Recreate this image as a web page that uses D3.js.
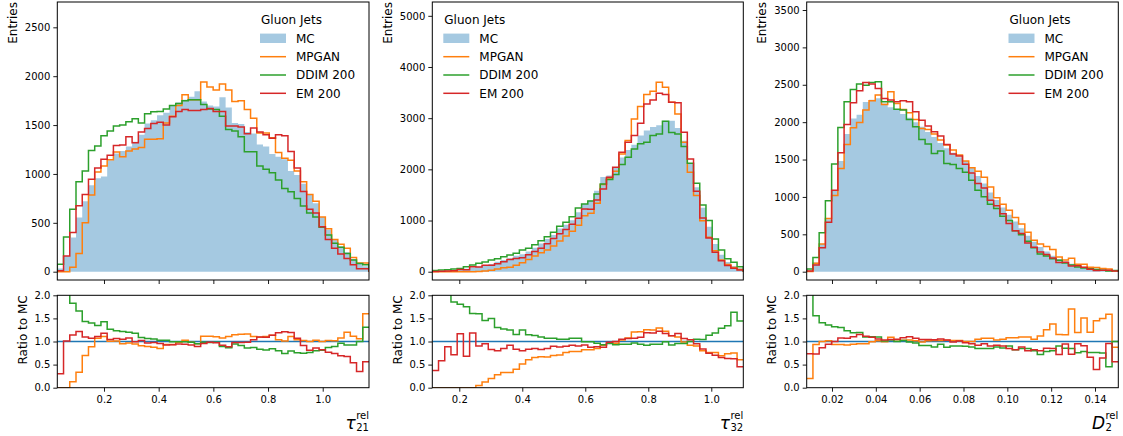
<!DOCTYPE html>
<html>
<head>
<meta charset="utf-8">
<script src="https://d3js.org/d3.v7.min.js"></script>
<style>
    body { margin: 0; background: #ffffff; }
    svg text { font-family: "DejaVu Sans", sans-serif; fill: #000000; }
</style>
</head>
<body>
<svg id="vis" width="1123" height="436"></svg>
<script>
/**
 * Call our functions on window load event
 */
window.onload = function(){
    setup();
};

/**
 * Data (50 bins per variable)
 */
var binCount = 50;
var seriesNames = ["MC", "MPGAN", "DDIM 200", "EM 200"];
var legendTitle = "Gluon Jets";

// tau21
var tau21Range = [0.0292, 1.1693];
var tau21MC    = [33,158,350,555,720,885,955,975,1140,1210, 1235,1280,1330,1400,1515,1550,1600,1625,1705,1730, 1760,1790,1845,1740,1700,1690,1785,1680,1520,1510, 1430,1415,1300,1280,1205,1175,1150,1030,990,900, 790,700,560,430,325,260,200,130,85,55];
var tau21MPGAN = [0,0,45,185,500,785,1020,1080,1145,1225, 1175,1235,1255,1270,1355,1355,1360,1520,1590,1700, 1810,1760,1760,1940,1890,1860,1920,1860,1740,1750, 1660,1570,1420,1420,1370,1220,1160,1140,1030,920, 790,720,560,440,330,280,240,145,90,88];
var tau21DDIM  = [75,355,640,920,1030,1240,1285,1390,1440,1490, 1500,1535,1565,1520,1615,1635,1640,1665,1700,1720, 1750,1760,1760,1710,1665,1660,1590,1455,1440,1380, 1228,1228,1081,1047,1013,938,852,818,750,672, 600,560,455,375,290,250,185,120,85,72];
var tau21EM    = [10,160,400,675,790,945,1060,1150,1190,1290, 1295,1380,1320,1430,1465,1515,1530,1500,1585,1640, 1660,1650,1650,1660,1670,1640,1640,1490,1490,1480, 1410,1470,1430,1400,1365,1400,1390,1230,1060,820, 640,600,460,330,240,180,135,70,30,31];
var tau21XTicks = [0.2, 0.4, 0.6, 0.8, 1.0];
var tau21YTicks = [0, 500, 1000, 1500, 2000, 2500];

// tau32
var tau32Range = [0.1143, 1.1016];
var tau32MC    = [8,12,18,28,36,56,81,102,130,152, 195,231,261,312,340,397,467,551,640,719, 845,919,1006,1163,1330, 1390,1580,1850,1880,2040, 2230,2380,2480,2660,2760, 2830,2860,2950,2950,2810, 2560,2120,1650,1250,880, 540,330,190,112,68];
var tau32MPGAN = [0,0,0,0,0,0,0,5,16,30, 55,76,86,125,175,240,305,370,424,500, 600,700,790,910,1095, 1141,1337,1702,1813,1962, 2302,2562,2986,3227,3462, 3527,3703,3606,3312,3084, 2530,1943,1487,998,672, 411,228,140,84,41];
var tau32DDIM  = [25,33,40,52,65,98,130,163,189,228, 254,293,326,359,424,456,528,606,685,769, 887,965,1076,1245,1324, 1380,1519,1715,1800,1900, 2093,2236,2400,2500,2530, 2660,2693,2940,2719,2693, 2445,2119,1728,1304,1000, 639,424,255,183,98];
var tau32EM    = [3,7,16,20,42,38,96,92,124,126, 156,196,240,259,272,330,397,457,544,647, 744,827,926,1047,1226, 1219,1400,1617,1845,2041, 2334,2530,2660,2901,3279, 3357,3488,3462,3312,3300, 2725,2204,1571,1050,658, 378,215,120,70,31];
var tau32XTicks = [0.2, 0.4, 0.6, 0.8, 1.0];
var tau32YTicks = [0, 1000, 2000, 3000, 4000, 5000];

// D2
var d2Range = [0.00846, 0.15063];
var d2MC    = [15,122,370,700,1090,1480,1840,2050,2100,2270, 2300,2320,2250,2200,2170,2110,2060,2000,1940,1870, 1800,1720,1650,1590,1530, 1480,1390,1280,1180,1060, 960,860,760,670,580, 480,400,330,270,215, 170,135,105,82,65, 50,38,28,22,16];
var d2MPGAN = [3,114,370,713,1020,1380,1702,1925,1996,2161, 2286,2362,2237,2406,2250,2170,2125,2036,1916,1903, 1840,1760,1693,1626,1560, 1480,1390,1345,1263,1134, 989,903,821,724,638, 528,420,370,338,297, 196,155,179,98,98, 60,55,42,35,14];
var d2DDIM  = [35,190,521,950,1440,1929,2273,2437,2509,2495, 2531,2540,2273,2273,2174,2161,2036,1938,1769,1707, 1582,1613,1448,1435,1380, 1330,1223,1088,1003,901, 845,740,684,549,493, 408,320,238,211,172, 153,115,89,62,51, 38,29,21,10,16];
var d2EM    = [11,89,320,660,1090,1591,1970,2259,2420,2531, 2509,2451,2317,2295,2273,2286,2273,2139,2027,1947, 1871,1814,1702,1573,1546, 1436,1320,1178,1121,954, 883,774,646,549,510, 384,328,264,230,183, 122,128,76,78,59, 33,15,18,21,9];
var d2XTicks = [0.02, 0.04, 0.06, 0.08, 0.10, 0.12, 0.14];
var d2YTicks = [0, 500, 1000, 1500, 2000, 2500, 3000, 3500];

var ratioTicks = [0.0, 0.5, 1.0, 1.5, 2.0];

/**
 * Layout and styles
 */
const TOP = { top: 2, bottom: 280 };
const RATIO = { top: 295.3, bottom: 387.7 };
const COLORS = ["#1f77b4", "#ff7f0e", "#2ca02c", "#d62728"];
const TICK = 4;

var panels = [
    { left: 57.3, right: 369, range: tau21Range, series: [tau21MC, tau21MPGAN, tau21DDIM, tau21EM],
      yDomain: [-85, 2759], yTicks: tau21YTicks, xTicks: tau21XTicks, xFmt: ".1f",
      legendX: 260, label: { main: "\u03c4", sub: "21", sup: "rel" } },
    { left: 432.3, right: 743.3, range: tau32Range, series: [tau32MC, tau32MPGAN, tau32DDIM, tau32EM],
      yDomain: [-162, 5270], yTicks: tau32YTicks, xTicks: tau32XTicks, xFmt: ".1f",
      legendX: 443.3, label: { main: "\u03c4", sub: "32", sup: "rel" } },
    { left: 806.7, right: 1118.3, range: d2Range, series: [d2MC, d2MPGAN, d2DDIM, d2EM],
      yDomain: [-111, 3607], yTicks: d2YTicks, xTicks: d2XTicks, xFmt: ".2f",
      legendX: 1008.5, label: { main: "D", sub: "2", sup: "rel" } }
];

function setup(){
    var svg = d3.select("#vis");
    panels.forEach(function(p, i){
        drawPanel(svg, p, i);
    });
}

//points for a step outline: one point per bin left edge plus the last right edge
function stepPoints(edges, vals){
    var pts = vals.map(function(v, i){ return [edges[i], v]; });
    pts.push([edges[vals.length], vals[vals.length - 1]]);
    return pts;
}

function styleAxis(g){
    g.select(".domain").remove();
    g.selectAll(".tick line").attr("stroke", "#000").attr("stroke-width", 0.9);
    g.selectAll(".tick text").style("font-size", "10px").attr("fill", "#000");
}

function drawPanel(svg, p, idx){
    var edges = d3.range(binCount + 1).map(function(i){
        return p.range[0] + (p.range[1] - p.range[0]) * i / binCount;
    });
    var x = d3.scaleLinear().domain(p.range).range([p.left, p.right]);
    var yTop = d3.scaleLinear().domain(p.yDomain).range([TOP.bottom, TOP.top]);
    var yRat = d3.scaleLinear().domain([0, 2]).range([RATIO.bottom, RATIO.top]);

    //clip paths
    var defs = svg.append("defs");
    defs.append("clipPath").attr("id", "clipTop" + idx).append("rect")
        .attr("x", p.left).attr("y", TOP.top).attr("width", p.right - p.left).attr("height", TOP.bottom - TOP.top);
    defs.append("clipPath").attr("id", "clipRat" + idx).append("rect")
        .attr("x", p.left).attr("y", RATIO.top).attr("width", p.right - p.left).attr("height", RATIO.bottom - RATIO.top);

    // ---------- top histogram ----------
    var top = svg.append("g").attr("clip-path", "url(#clipTop" + idx + ")");

    var area = d3.area()
        .x(function(d){ return x(d[0]); })
        .y0(yTop(0))
        .y1(function(d){ return yTop(d[1]); })
        .curve(d3.curveStepAfter);
    top.append("path")
        .attr("d", area(stepPoints(edges, p.series[0])))
        .attr("fill", COLORS[0])
        .attr("fill-opacity", 0.4);

    var lineTop = d3.line()
        .x(function(d){ return x(d[0]); })
        .y(function(d){ return yTop(d[1]); })
        .curve(d3.curveStepAfter);
    for (var s = 1; s < 4; s++){
        var pts = [[edges[0], 0]].concat(stepPoints(edges, p.series[s])).concat([[edges[binCount], 0]]);
        top.append("path")
            .attr("d", lineTop(pts))
            .attr("fill", "none")
            .attr("stroke", COLORS[s])
            .attr("stroke-width", 1.5);
    }

    //axes of top panel (no x labels)
    svg.append("g").attr("transform", `translate(${p.left},0)`)
        .call(d3.axisLeft(yTop).tickValues(p.yTicks).tickFormat(d3.format("d")).tickSize(TICK).tickPadding(3))
        .call(styleAxis);
    svg.append("g").attr("transform", `translate(0,${TOP.bottom})`)
        .call(d3.axisBottom(x).tickValues(p.xTicks).tickFormat("").tickSize(TICK))
        .call(styleAxis);
    svg.append("rect")
        .attr("x", p.left).attr("y", TOP.top)
        .attr("width", p.right - p.left).attr("height", TOP.bottom - TOP.top)
        .attr("fill", "none").attr("stroke", "#000").attr("stroke-width", 1);

    // ---------- ratio panel ----------
    var rat = svg.append("g").attr("clip-path", "url(#clipRat" + idx + ")");
    var lineRat = d3.line()
        .x(function(d){ return x(d[0]); })
        .y(function(d){ return yRat(d[1]); })
        .curve(d3.curveStepAfter);
    var mc = p.series[0];
    for (var r = 0; r < 4; r++){
        var ratio = p.series[r].map(function(v, i){ return v / mc[i]; });
        rat.append("path")
            .attr("d", lineRat(stepPoints(edges, ratio)))
            .attr("fill", "none")
            .attr("stroke", COLORS[r])
            .attr("stroke-width", r === 0 ? 1.3 : 1.5);
    }

    svg.append("g").attr("transform", `translate(${p.left},0)`)
        .call(d3.axisLeft(yRat).tickValues(ratioTicks).tickFormat(d3.format(".1f")).tickSize(TICK).tickPadding(3))
        .call(styleAxis);
    svg.append("g").attr("transform", `translate(0,${RATIO.bottom})`)
        .call(d3.axisBottom(x).tickValues(p.xTicks).tickFormat(d3.format(p.xFmt)).tickSize(TICK).tickPadding(4))
        .call(styleAxis);
    svg.append("rect")
        .attr("x", p.left).attr("y", RATIO.top)
        .attr("width", p.right - p.left).attr("height", RATIO.bottom - RATIO.top)
        .attr("fill", "none").attr("stroke", "#000").attr("stroke-width", 1);

    // ---------- axis labels ----------
    svg.append("text")
        .attr("transform", `translate(${p.left - 40.3},${TOP.top}) rotate(-90)`)
        .attr("text-anchor", "end")
        .style("font-size", "12px")
        .text("Entries");
    svg.append("text")
        .attr("transform", `translate(${p.left - 30.3},${RATIO.top}) rotate(-90)`)
        .attr("text-anchor", "end")
        .style("font-size", "12px")
        .text("Ratio to MC");

    //x label: main glyph then stacked super/subscript, right aligned
    var lab = svg.append("text").attr("y", 428.5);
    var tMain = lab.append("tspan")
        .style("font-size", "17px").style("font-style", "italic")
        .text(p.label.main);
    var tSup = lab.append("tspan")
        .attr("dx", 0.5).attr("dy", -10)
        .style("font-size", "10px")
        .text(p.label.sup);
    var wSup = tSup.node().getComputedTextLength();
    var tSub = lab.append("tspan")
        .attr("dx", -wSup).attr("dy", 12)
        .style("font-size", "10px")
        .text(p.label.sub);
    var wSub = tSub.node().getComputedTextLength();
    var wMain = tMain.node().getComputedTextLength();
    lab.attr("x", p.right - wMain - 0.5 - Math.max(wSup, wSub));

    // ---------- legend ----------
    var lg = svg.append("g").attr("transform", `translate(${p.legendX},0)`);
    lg.append("text").attr("x", 1).attr("y", 20).attr("dy", "0.35em")
        .style("font-size", "12px").text(legendTitle);
    var rows = [38.3, 56.7, 75, 93.3];
    seriesNames.forEach(function(name, k){
        if (k === 0){
            lg.append("rect").attr("x", 0).attr("y", rows[k] - 4.7).attr("width", 26).attr("height", 9.4)
                .attr("fill", COLORS[0]).attr("fill-opacity", 0.4);
        } else {
            lg.append("line").attr("x1", 0).attr("x2", 26).attr("y1", rows[k]).attr("y2", rows[k])
                .attr("stroke", COLORS[k]).attr("stroke-width", 1.5);
        }
        lg.append("text").attr("x", 36).attr("y", rows[k]).attr("dy", "0.35em")
            .style("font-size", "12px").text(name);
    });
}
</script>
</body>
</html>
